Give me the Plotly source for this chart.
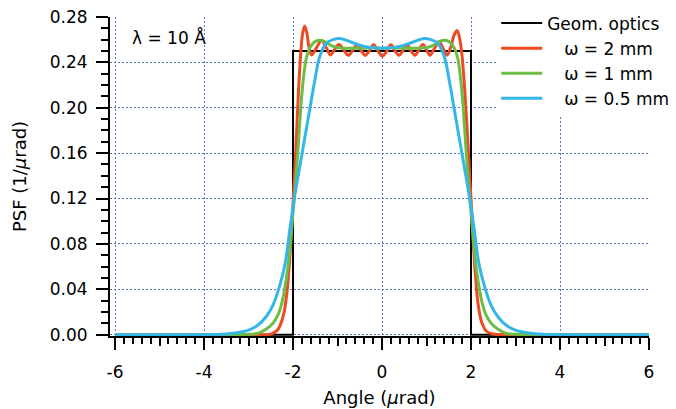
import plotly.graph_objects as go

# ---------------- data ----------------
angle_geom = [-6, -2, -2, 2, 2, 6]
psf_geom = [0, 0, 0.25, 0.25, 0, 0]

angle_2mm = [-6, -3.0, -2.5, -2.35, -2.28, -2.2, -2.14, -2.09, -2.04, -2.0, -1.96,
             -1.92, -1.88, -1.84, -1.79, -1.74, -1.69, -1.64, -1.58, -1.47, -1.36,
             -1.26, -1.16, -1.07, -0.97, -0.86, -0.76, -0.66, -0.56, -0.47, -0.38,
             -0.28, -0.19, -0.09, 0.01, 0.11, 0.2, 0.29, 0.38, 0.47, 0.56, 0.65,
             0.74, 0.83, 0.92, 1.0, 1.08, 1.18, 1.28, 1.37, 1.46, 1.55, 1.62, 1.69,
             1.75, 1.80, 1.86, 1.92, 1.97, 2.01, 2.05, 2.1, 2.16, 2.24, 2.35, 2.5,
             3.0, 6]
psf_2mm = [0, 0, 0.0005, 0.004, 0.009, 0.02, 0.036, 0.058, 0.088, 0.115, 0.145,
           0.178, 0.212, 0.240, 0.264, 0.272, 0.266, 0.253, 0.2465, 0.253, 0.2595,
           0.2535, 0.2465, 0.251, 0.2558, 0.251, 0.2462, 0.2505, 0.2555, 0.2505, 0.2462,
           0.2505, 0.2555, 0.250, 0.2455, 0.250, 0.2555, 0.2505, 0.2462, 0.2505, 0.2555, 0.2505,
           0.2462, 0.251, 0.2558, 0.251, 0.2462, 0.2525, 0.2585, 0.2525, 0.2462, 0.254, 0.264, 0.268,
           0.260, 0.245, 0.215, 0.176, 0.140, 0.112, 0.083, 0.052, 0.027, 0.011, 0.003, 0.0005,
           0, 0]

angle_1mm = [-6, -3.3, -3.0, -2.8, -2.6, -2.45, -2.33, -2.25, -2.18, -2.12, -2.06, -2.0,
             -1.94, -1.88, -1.82, -1.76, -1.7, -1.62, -1.52, -1.4, -1.3, -1.15, -1.0,
             -0.8, -0.5, -0.2, 0, 0.2, 0.5, 0.8, 1.0, 1.15, 1.3, 1.4, 1.52, 1.62, 1.7,
             1.76, 1.82, 1.88, 1.94, 2.0, 2.06, 2.12, 2.18, 2.25, 2.33, 2.45, 2.6, 2.8,
             3.0, 3.3, 6]
psf_1mm = [0, 0, 0.0003, 0.001, 0.005, 0.010, 0.018, 0.028, 0.042, 0.058, 0.080, 0.108,
           0.135, 0.168, 0.203, 0.228, 0.244, 0.253, 0.258, 0.2595, 0.2585, 0.255, 0.253,
           0.2525, 0.2525, 0.253, 0.2525, 0.253, 0.2525, 0.2525, 0.253, 0.255, 0.2585,
           0.2595, 0.258, 0.253, 0.244, 0.228, 0.203, 0.168, 0.135, 0.108, 0.080, 0.058,
           0.042, 0.028, 0.018, 0.010, 0.005, 0.001, 0.0003, 0, 0]

angle_05mm = [-6, -3.9, -3.6, -3.3, -3.0, -2.8, -2.6, -2.45, -2.3, -2.18, -2.07, -1.98,
              -1.88, -1.76, -1.64, -1.52, -1.4, -1.25, -1.1, -0.95, -0.7, -0.4, 0, 0.4,
              0.7, 0.95, 1.1, 1.25, 1.4, 1.52, 1.64, 1.76, 1.88, 1.98, 2.07, 2.18, 2.3,
              2.45, 2.6, 2.8, 3.0, 3.3, 3.6, 3.9, 6]
psf_05mm = [0, 0, 0.0003, 0.0015, 0.004, 0.008, 0.016, 0.026, 0.043, 0.062, 0.093, 0.118,
            0.141, 0.168, 0.195, 0.222, 0.245, 0.257, 0.260, 0.261, 0.258, 0.254, 0.2525,
            0.254, 0.258, 0.261, 0.260, 0.257, 0.245, 0.222, 0.195, 0.168, 0.141, 0.118,
            0.093, 0.062, 0.043, 0.026, 0.016, 0.008, 0.004, 0.0015, 0.0003, 0, 0]

x_major_ticks = [-6, -4, -2, 0, 2, 4, 6]
x_tick_labels = ["-6", "-4", "-2", "0", "2", "4", "6"]
x_mid_ticks = [-5, -3, -1, 1, 3, 5]
y_ticks = [0.00, 0.04, 0.08, 0.12, 0.16, 0.20, 0.24, 0.28]

names = ["Geom. optics", "\u2002\u2002ω = 2 mm", "\u2002\u2002ω = 1 mm",
         "\u2002\u2002ω = 0.5 mm"]
colors = ["#000000", "#ee4a22", "#6cbd45", "#35b6e8"]

FONT = "DejaVu Sans"
GRID = "#5a74c2"
X_RANGE = [-6.113, 6]

fig = go.Figure()
fig.add_trace(go.Scatter(x=angle_geom, y=psf_geom, mode="lines", name=names[0],
                         line=dict(color=colors[0], width=2)))
fig.add_trace(go.Scatter(x=angle_2mm, y=psf_2mm, mode="lines", name=names[1],
                         line=dict(color=colors[1], width=3, shape="spline", smoothing=1)))
fig.add_trace(go.Scatter(x=angle_1mm, y=psf_1mm, mode="lines", name=names[2],
                         line=dict(color=colors[2], width=3, shape="spline", smoothing=1)))
fig.add_trace(go.Scatter(x=angle_05mm, y=psf_05mm, mode="lines", name=names[3],
                         line=dict(color=colors[3], width=3, shape="spline", smoothing=1)))
# dummy trace so the overlay axis (medium ticks) exists
fig.add_trace(go.Scatter(x=[None], y=[None], xaxis="x2", showlegend=False,
                         hoverinfo="skip"))

fig.update_layout(
    width=676, height=409, autosize=False,
    margin=dict(l=110, r=27, t=17, b=73, autoexpand=False),
    paper_bgcolor="white", plot_bgcolor="white",
    font=dict(family=FONT, size=17, color="black"),
    showlegend=True,
    legend=dict(x=0.7165, xanchor="left", y=1.036, yanchor="top",
                bgcolor="white", borderwidth=0, font=dict(size=17),
                itemwidth=41, tracegroupgap=0),
    xaxis=dict(range=X_RANGE, tickvals=x_major_ticks, ticktext=x_tick_labels,
               ticks="outside", ticklen=12,
               tickwidth=1.5, tickcolor="black", showline=True, linecolor="black",
               linewidth=2, showgrid=True, gridcolor=GRID, gridwidth=1,
               griddash="2px,2px", zeroline=False, ticklabelstandoff=8,
               automargin=False,
               minor=dict(tick0=0, dtick=0.2, ticks="outside", ticklen=6, tickwidth=1.5,
                          tickcolor="black", showgrid=False),
               title=dict(text="Angle (<i>μ</i>rad)", standoff=10,
                          font=dict(size=18))),
    xaxis2=dict(range=X_RANGE, overlaying="x", anchor="y", side="bottom",
                tickvals=x_mid_ticks, ticks="outside", ticklen=9, tickwidth=1.5,
                tickcolor="black", showticklabels=False, showgrid=False,
                showline=False, zeroline=False, automargin=False),
    yaxis=dict(range=[-0.0012, 0.28], tickvals=y_ticks, tickformat=".2f",
               ticks="outside", ticklen=12, tickwidth=1.5, tickcolor="black",
               showline=True, linecolor="black", linewidth=2, showgrid=True,
               gridcolor=GRID, gridwidth=1, griddash="2px,2px", zeroline=False,
               ticklabelstandoff=5, automargin=False,
               minor=dict(dtick=0.01, ticks="outside", ticklen=7, tickwidth=1.5,
                          tickcolor="black", showgrid=False),
               title=dict(text="PSF (1/<i>μ</i>rad)", standoff=18,
                          font=dict(size=18))),
    annotations=[dict(x=-5.67, y=0.2617, xref="x", yref="y", xanchor="left",
                      yanchor="middle", text="λ = 10 Å", showarrow=False,
                      font=dict(size=17, family=FONT))],
)

fig.write_html("out.html",
               config={"displayModeBar": False},
               post_script="document.body.style.margin='0';"
                           "document.body.style.overflow='hidden';")
